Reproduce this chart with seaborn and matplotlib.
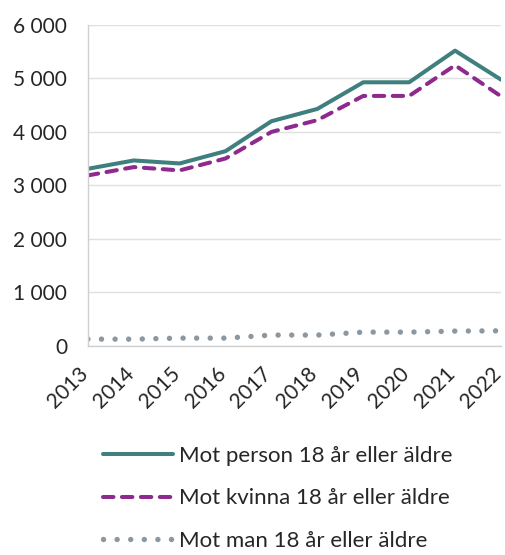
import pandas as pd
import matplotlib.pyplot as plt
import matplotlib.transforms as mtransforms
import seaborn as sns

years = [2013, 2014, 2015, 2016, 2017, 2018, 2019, 2020, 2021, 2022]
person = [3310, 3466, 3410, 3640, 4200, 4430, 4928, 4928, 5520, 4978]
kvinna = [3186, 3342, 3280, 3503, 4000, 4220, 4673, 4673, 5246, 4667]
man = [124, 124, 143, 143, 200, 200, 255, 255, 274, 280]

labels = ['Mot person 18 år eller äldre', 'Mot kvinna 18 år eller äldre', 'Mot man 18 år eller äldre']
colors = ['#3f7f7e', '#8e2a8e', '#8d97a0']

df = pd.DataFrame({'år': years * 3,
                   'antal': person + kvinna + man,
                   'serie': [labels[0]] * 10 + [labels[1]] * 10 + [labels[2]] * 10})

sns.set_style('white')
plt.rcParams['font.family'] = ['Lato', 'DejaVu Sans']

fig = plt.figure(figsize=(5.05, 5.55), dpi=100)
ax = fig.add_axes([0.174, 0.377, 0.818, 0.578])

# (linewidth, linestyle)
styles = [(2.9, None), (2.9, (0, (2.6, 2.1))), (3.9, (0, (0.01, 2.5)))]
for lab, col, (lw, ls) in zip(labels, colors, styles):
    sub = df[df['serie'] == lab]
    sns.lineplot(data=sub, x='år', y='antal', ax=ax, color=col, linewidth=lw, label=lab)
    l = ax.lines[-1]
    if ls is not None:
        l.set_linestyle(ls)
        l.set_dash_capstyle('round')

ax.set_xlim(2013, 2022)
ax.set_ylim(0, 6000)
ax.set_yticks(range(0, 6001, 1000))
ax.set_yticklabels([f'{v:,}'.replace(',', ' ') for v in range(0, 6001, 1000)], fontsize=15)
ax.set_xticks(years)
ax.set_xticklabels([str(y) for y in years], rotation=45, ha='right', va='top',
                   rotation_mode='anchor', fontsize=15)
ax.set_xlabel('')
ax.set_ylabel('')
ax.grid(axis='y', color='#e0e0e0', linewidth=1)
ax.set_axisbelow(True)
for s in ['top', 'right']:
    ax.spines[s].set_visible(False)
for s in ['left', 'bottom']:
    ax.spines[s].set_color('#d0d0d0')
    ax.spines[s].set_linewidth(1)
ax.tick_params(axis='y', length=5, color='#e0e0e0', pad=10)
ax.tick_params(axis='x', length=5, color='#d0d0d0', pad=8)

# nudge the rotated year labels a bit to the left
shift = mtransforms.ScaledTranslation(-10 / 100, 0, fig.dpi_scale_trans)
for tick in ax.xaxis.get_major_ticks():
    tick.label1.set_transform(tick.label1.get_transform() + shift)

handles, labs = ax.get_legend_handles_labels()
for h, (lw, ls) in zip(handles, styles):
    if ls is not None:
        h.set_linestyle(ls)
        h.set_dash_capstyle('round')
ax.legend(handles, labs, loc='upper left', bbox_to_anchor=(0.164, 0.233), bbox_transform=fig.transFigure,
          frameon=False, fontsize=16, handlelength=3.15, handletextpad=0.3, labelspacing=1.02)

fig.savefig('out.png', dpi=100)
